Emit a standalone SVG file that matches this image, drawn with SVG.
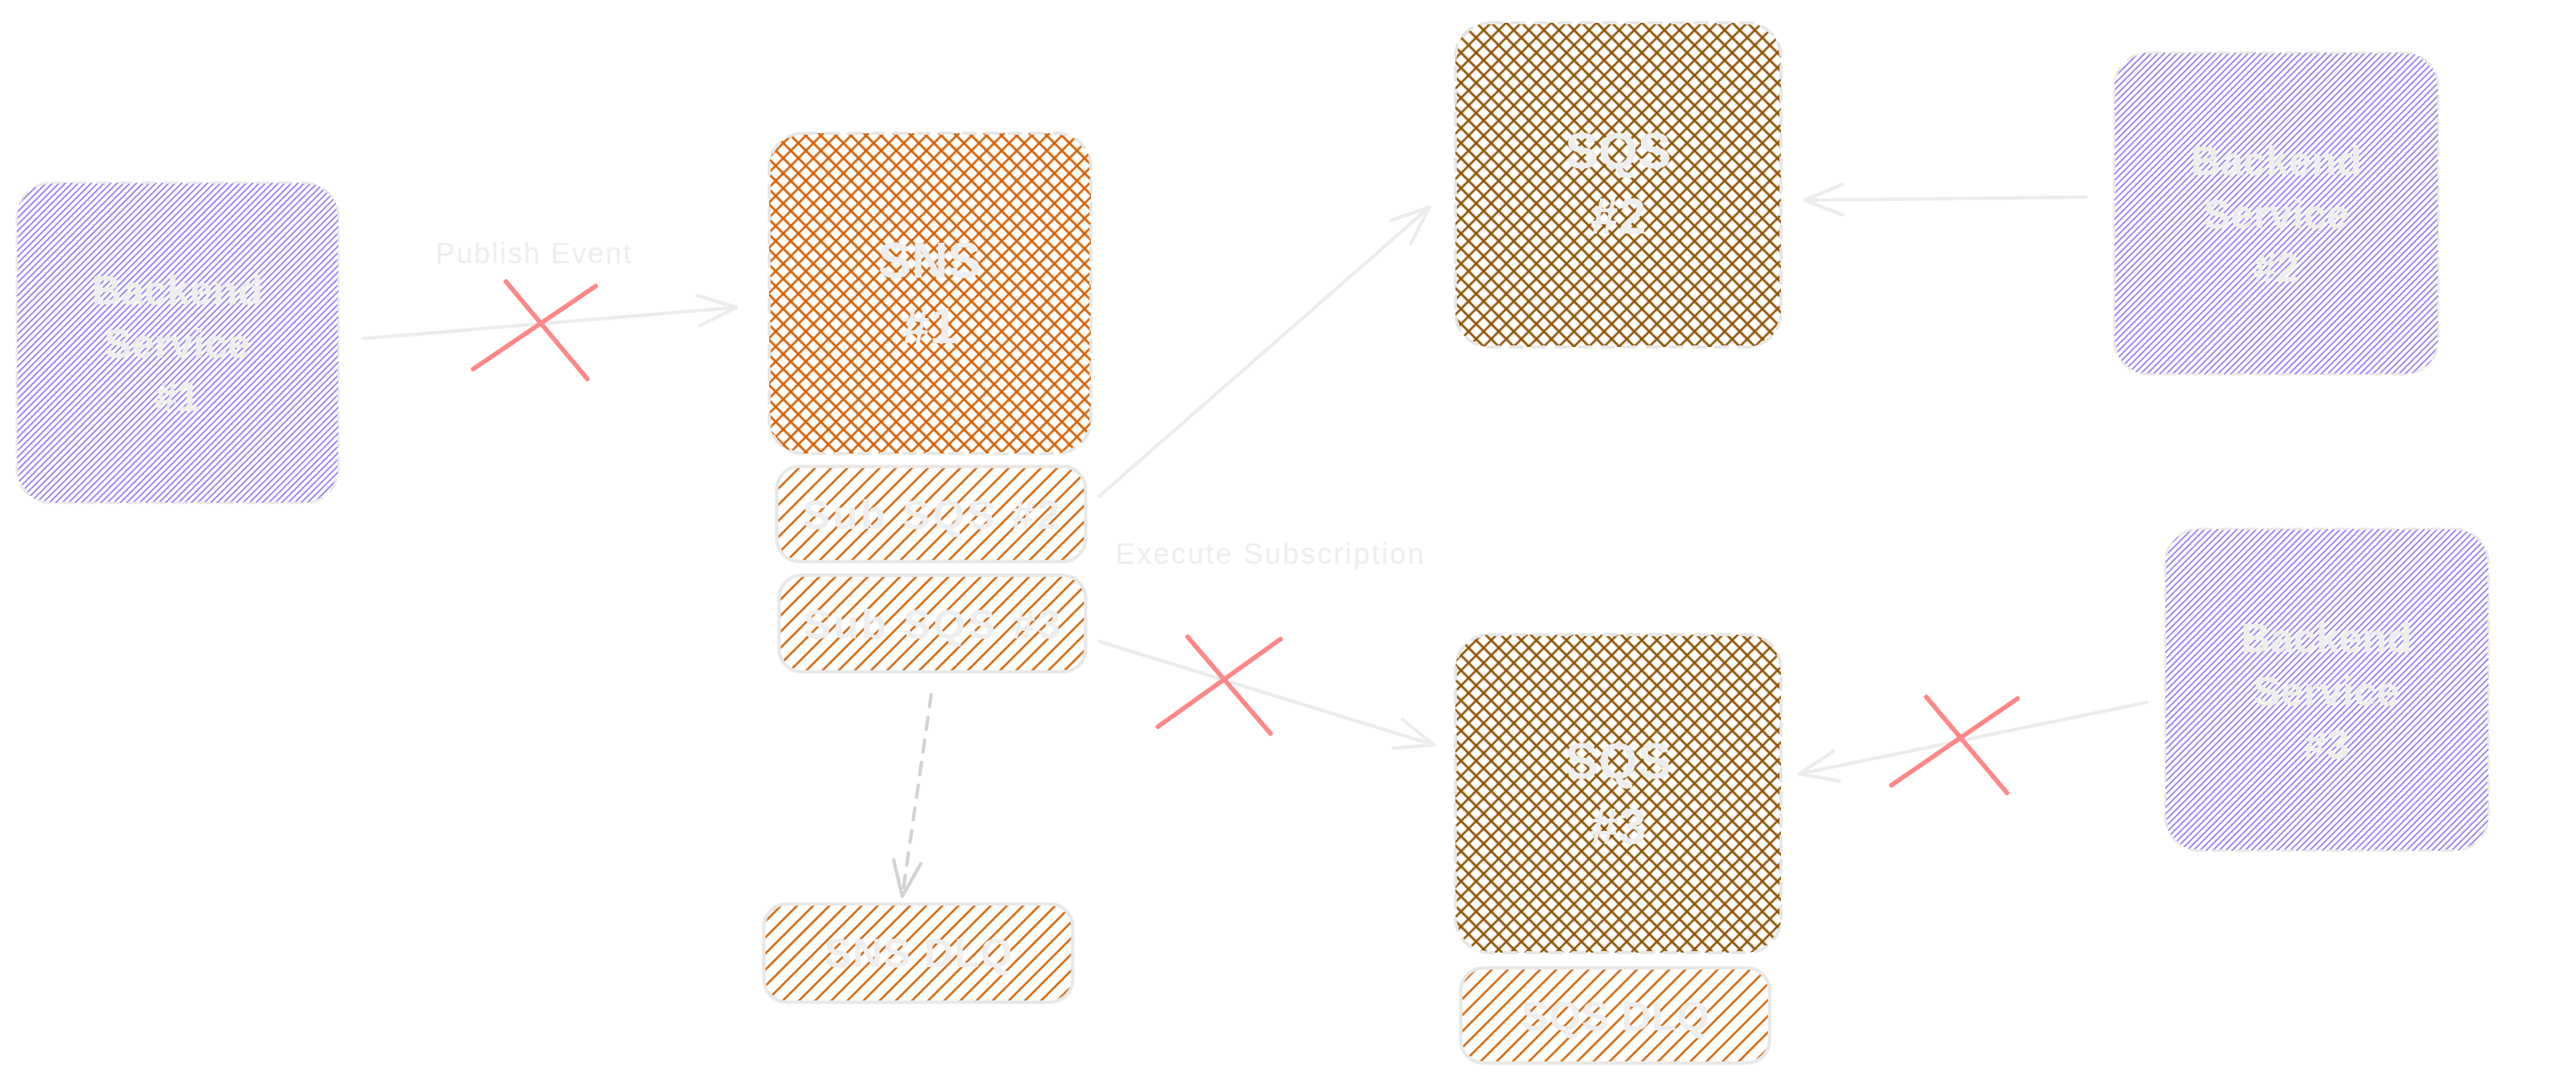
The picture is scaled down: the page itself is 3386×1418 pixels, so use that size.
<svg xmlns="http://www.w3.org/2000/svg" width="3386" height="1418" viewBox="0 0 3386 1418">
<defs>
<style>
.lbl{font-family:"Liberation Sans",Arial,sans-serif;fill:#eeeeee;text-anchor:middle}
.f56{font-size:54px;font-weight:bold}
.f66{font-size:66px;font-weight:bold}
.f54{font-size:54px;font-weight:bold}
.f38{font-size:38px}
.dashbox{stroke:#e6e6e6;stroke-width:4;stroke-dasharray:16 14;stroke-linecap:round}
.thinbox{stroke:#e9e9e9;stroke-width:3;stroke-dasharray:16 14;stroke-linecap:round}
.solidbox{stroke:#e8e8e8;stroke-width:4.5}
.conn{fill:none;stroke:#ececec;stroke-width:4.5;stroke-linecap:round}
.dconn{fill:none;stroke:#d2d2d2;stroke-width:4.5;stroke-linecap:round;stroke-dasharray:16 14}
.cross{stroke:#ff8787;stroke-width:6;stroke-linecap:round}
</style>
<pattern id="hPurple" patternUnits="userSpaceOnUse" width="6" height="6" patternTransform="rotate(45)"><line x1="3" y1="0" x2="3" y2="6" stroke="#9474f5" stroke-width="1.8"/></pattern>
<pattern id="hOrange" patternUnits="userSpaceOnUse" width="15" height="15" patternTransform="rotate(45)"><line x1="7.5" y1="0" x2="7.5" y2="15" stroke="#d35f00" stroke-width="2.6"/></pattern>
<pattern id="xOrange" patternUnits="userSpaceOnUse" width="14" height="14" patternTransform="rotate(45)"><path d="M7 0V14M0 7H14" stroke="#d35f00" stroke-width="2.8" fill="none"/></pattern>
<pattern id="xBrown" patternUnits="userSpaceOnUse" width="14" height="14" patternTransform="rotate(45)"><path d="M7 0V14M0 7H14" stroke="#8f5200" stroke-width="2.8" fill="none"/></pattern>
<marker id="ah" viewBox="-60 -30 70 60" markerWidth="70" markerHeight="60" refX="0" refY="0" orient="auto" markerUnits="userSpaceOnUse"><path d="M-50 -20 L0 0 L-50 20" fill="none" stroke="#ececec" stroke-width="4.5" stroke-linecap="round" stroke-linejoin="round"/></marker>
<marker id="ahd" viewBox="-60 -30 70 60" markerWidth="70" markerHeight="60" refX="0" refY="0" orient="auto" markerUnits="userSpaceOnUse"><path d="M-46 -18 L0 0 L-46 18" fill="none" stroke="#d2d2d2" stroke-width="4.5" stroke-linecap="round" stroke-linejoin="round"/></marker>
</defs>
<rect width="3386" height="1418" fill="#ffffff"/>

<g id="backend-service-1">
<rect x="22" y="240" width="423" height="421" rx="45" fill="url(#hPurple)" class="thinbox"/>
<text class="lbl f56" x="233" y="400">Backend</text>
<text class="lbl f56" x="233" y="470">Service</text>
<text class="lbl f56" x="233" y="540">#1</text>
</g>

<g id="sns-1">
<rect x="1011" y="175" width="423" height="421" rx="45" fill="url(#xOrange)" class="dashbox"/>
<text class="lbl f66" x="1222" y="365">SNS</text>
<text class="lbl f66" x="1222" y="451">#1</text>
</g>

<g id="sub-sqs-2">
<rect x="1021" y="613" width="406" height="125" rx="30" fill="url(#hOrange)" class="solidbox"/>
<text class="lbl f54" x="1224" y="695" textLength="338" lengthAdjust="spacing">Sub SQS #2</text>
</g>

<g id="sub-sqs-3">
<rect x="1024" y="756" width="403" height="127" rx="30" fill="url(#hOrange)" class="solidbox"/>
<text class="lbl f54" x="1225" y="839" textLength="338" lengthAdjust="spacing">Sub SQS #3</text>
</g>

<g id="sns-dlq">
<rect x="1004" y="1188" width="406" height="129" rx="30" fill="url(#hOrange)" class="solidbox"/>
<text class="lbl f54" x="1207" y="1271" textLength="247" lengthAdjust="spacing">SNS DLQ</text>
</g>

<g id="sqs-2">
<rect x="1913" y="30" width="428" height="426" rx="45" fill="url(#xBrown)" class="dashbox"/>
<text class="lbl f66" x="2127" y="221">SQS</text>
<text class="lbl f66" x="2127" y="307">#2</text>
</g>

<g id="sqs-3">
<rect x="1913" y="834" width="428" height="418" rx="45" fill="url(#xBrown)" class="dashbox"/>
<text class="lbl f66" x="2127" y="1023">SQS</text>
<text class="lbl f66" x="2127" y="1109">#3</text>
</g>

<g id="sqs-dlq">
<rect x="1920" y="1272" width="406" height="125" rx="30" fill="url(#hOrange)" class="solidbox"/>
<text class="lbl f54" x="2123" y="1354" textLength="247" lengthAdjust="spacing">SQS DLQ</text>
</g>

<g id="backend-service-2">
<rect x="2779" y="69" width="426" height="423" rx="45" fill="url(#hPurple)" class="thinbox"/>
<text class="lbl f56" x="2992" y="230">Backend</text>
<text class="lbl f56" x="2992" y="300">Service</text>
<text class="lbl f56" x="2992" y="370">#2</text>
</g>

<g id="backend-service-3">
<rect x="2846" y="695" width="425" height="423" rx="45" fill="url(#hPurple)" class="thinbox"/>
<text class="lbl f56" x="3058" y="857">Backend</text>
<text class="lbl f56" x="3058" y="927">Service</text>
<text class="lbl f56" x="3058" y="997">#3</text>
</g>

<g id="connectors">
<path class="conn" d="M477 445 L968 404" marker-end="url(#ah)"/>
<text class="lbl f38" x="701" y="346" textLength="257" lengthAdjust="spacing">Publish Event</text>
<path class="conn" d="M1445 652 L1879 272" marker-end="url(#ah)"/>
<text class="lbl f38" x="1669" y="741" textLength="405" lengthAdjust="spacing">Execute Subscription</text>
<path class="conn" d="M1445 843 L1885 979" marker-end="url(#ah)"/>
<path class="dconn" d="M1224 913 L1186 1178" marker-end="url(#ahd)"/>
<path class="conn" d="M2742 259 L2372 263" marker-end="url(#ah)"/>
<path class="conn" d="M2822 923 L2365 1017" marker-end="url(#ah)"/>
<g id="blocked-marks">
<line class="cross" x1="665" y1="370" x2="772" y2="498"/>
<line class="cross" x1="622" y1="485" x2="783" y2="376"/>
<line class="cross" x1="1561" y1="837" x2="1670" y2="964"/>
<line class="cross" x1="1522" y1="955" x2="1683" y2="840"/>
<line class="cross" x1="2532" y1="916" x2="2638" y2="1042"/>
<line class="cross" x1="2486" y1="1032" x2="2652" y2="918"/>
</g>
</g>
</svg>
